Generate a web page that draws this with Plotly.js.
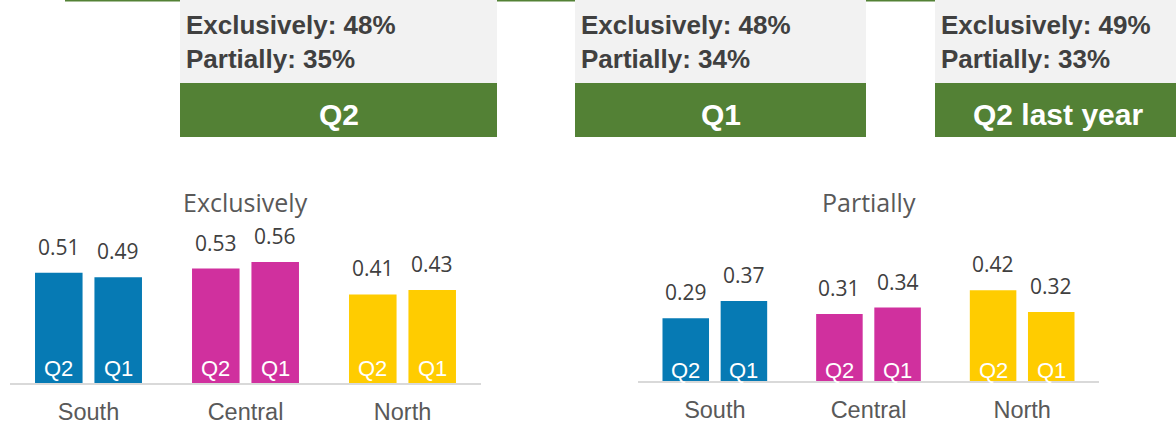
<!DOCTYPE html>
<html>
<head>
<meta charset="utf-8">
<script src="https://cdn.plot.ly/plotly-3.0.1.min.js"></script>
<style>
  html, body { margin: 0; padding: 0; background: #ffffff; }
  #chart { width: 1176px; height: 425px; }
</style>
</head>
<body>
<div id="chart"></div>
<script>
// ---- data ----
const regions = ['South', 'Central', 'North'];
const seriesNames = ['Q2', 'Q1'];
const exclusivelyQ2 = [0.51, 0.53, 0.41];
const exclusivelyQ1 = [0.49, 0.56, 0.43];
const partiallyQ2 = [0.29, 0.31, 0.42];
const partiallyQ1 = [0.37, 0.34, 0.32];
const chartTitles = ['Exclusively', 'Partially'];
const periodLabels = ['Q2', 'Q1', 'Q2 last year'];
const exclusivelyTotals = [48, 48, 49];
const partiallyTotals = [35, 34, 33];
const regionColors = ['#067AB4', '#D0309E', '#FFCC00'];

// ---- layout helpers ----
const W = 1176, H = 425;
const px = x => x / W;
const py = y => 1 - y / H;
const bargap = 0.243, bargroupgap = 0.2;
const slotHalf = (1 - bargap) / 4;

const charts = [
  { series: [exclusivelyQ2, exclusivelyQ1], xa: 'x', ya: 'y', qShift: 15 },
  { series: [partiallyQ2, partiallyQ1], xa: 'x2', ya: 'y2', qShift: 10.5 }
];

const traces = [];
const annotations = [];

charts.forEach((c, k) => {
  c.series.forEach((vals, s) => {
    traces.push({
      type: 'bar',
      x: regions,
      y: vals,
      name: seriesNames[s],
      marker: { color: regionColors },
      xaxis: c.xa,
      yaxis: c.ya,
      hoverinfo: 'none',
      showlegend: false
    });
    vals.forEach((v, i) => {
      const xp = i + (s === 0 ? -slotHalf : slotHalf);
      annotations.push({
        x: xp, y: v, xref: c.xa, yref: c.ya,
        text: v.toFixed(2), showarrow: false,
        yanchor: 'middle', yshift: 26,
        font: { family: 'Open Sans, Noto Sans, sans-serif', size: 21, color: '#404040' }
      });
      annotations.push({
        x: xp, y: 0, xref: c.xa, yref: c.ya,
        text: seriesNames[s], showarrow: false,
        yanchor: 'middle', yshift: c.qShift,
        font: { family: 'Liberation Sans, Arial, sans-serif', size: 22, color: '#ffffff' }
      });
    });
  });
  annotations.push({
    xref: c.xa + ' domain', x: 0.5, yref: 'paper', y: py(202),
    text: chartTitles[k], showarrow: false, xanchor: 'center', yanchor: 'middle',
    font: { family: 'Open Sans, Noto Sans, sans-serif', size: 25, color: '#595959' }
  });
});

// ---- top panels ----
const panels = [[180, 497], [575, 866], [935, 1181]];
const headerCenters = [338.5, 720.5, 1058];
const shapes = [
  { type: 'rect', xref: 'paper', yref: 'paper', x0: px(65), x1: 1, y0: py(1.5), y1: 1,
    fillcolor: '#538135', line: { width: 0 }, layer: 'below' }
];
panels.forEach((p, j) => {
  shapes.push({ type: 'rect', xref: 'paper', yref: 'paper', x0: px(p[0]), x1: px(p[1]),
    y0: py(83), y1: py(0), fillcolor: '#F2F2F2', line: { width: 0 }, layer: 'below' });
  shapes.push({ type: 'rect', xref: 'paper', yref: 'paper', x0: px(p[0]), x1: px(p[1]),
    y0: py(137), y1: py(83), fillcolor: '#538135', line: { width: 0 }, layer: 'below' });
  const topFont = { family: 'Liberation Sans, Arial, sans-serif', size: 26, color: '#404040' };
  annotations.push({
    xref: 'paper', yref: 'paper', x: px(p[0] + 4), y: py(25), xanchor: 'left', yanchor: 'middle',
    text: '<b>' + chartTitles[0] + ': ' + exclusivelyTotals[j] + '%</b>', showarrow: false, font: topFont
  });
  annotations.push({
    xref: 'paper', yref: 'paper', x: px(p[0] + 4), y: py(59), xanchor: 'left', yanchor: 'middle',
    text: '<b>' + chartTitles[1] + ': ' + partiallyTotals[j] + '%</b>', showarrow: false, font: topFont
  });
  annotations.push({
    xref: 'paper', yref: 'paper', x: px(headerCenters[j]), y: py(114), xanchor: 'center', yanchor: 'middle',
    text: '<b>' + periodLabels[j] + '</b>', showarrow: false,
    font: { family: 'Liberation Sans, Arial, sans-serif', size: 30, color: '#ffffff' }
  });
});

const xaxisBase = {
  type: 'category',
  showline: true, linecolor: '#D9D9D9', linewidth: 2,
  ticks: '', showgrid: false, zeroline: false,
  tickfont: { family: 'Liberation Sans, Arial, sans-serif', size: 23.5, color: '#595959' },
  ticklabelstandoff: 7,
  fixedrange: true
};
const yaxisBase = { range: [0, 1], visible: false, fixedrange: true, showgrid: false, zeroline: false };

const layout = {
  width: W, height: H,
  margin: { l: 0, r: 0, t: 0, b: 0, pad: 0 },
  paper_bgcolor: '#ffffff', plot_bgcolor: 'rgba(0,0,0,0)',
  barmode: 'group', bargap: bargap, bargroupgap: bargroupgap,
  showlegend: false,
  xaxis: Object.assign({}, xaxisBase, { domain: [px(10), px(481)], anchor: 'y' }),
  yaxis: Object.assign({}, yaxisBase, { domain: [py(383), py(167)], anchor: 'x' }),
  xaxis2: Object.assign({}, xaxisBase, { domain: [px(638), px(1099)], anchor: 'y2' }),
  yaxis2: Object.assign({}, yaxisBase, { domain: [py(381), py(165)], anchor: 'x2' }),
  shapes: shapes,
  annotations: annotations
};

Plotly.newPlot('chart', traces, layout, { staticPlot: true, displayModeBar: false });
</script>
</body>
</html>
